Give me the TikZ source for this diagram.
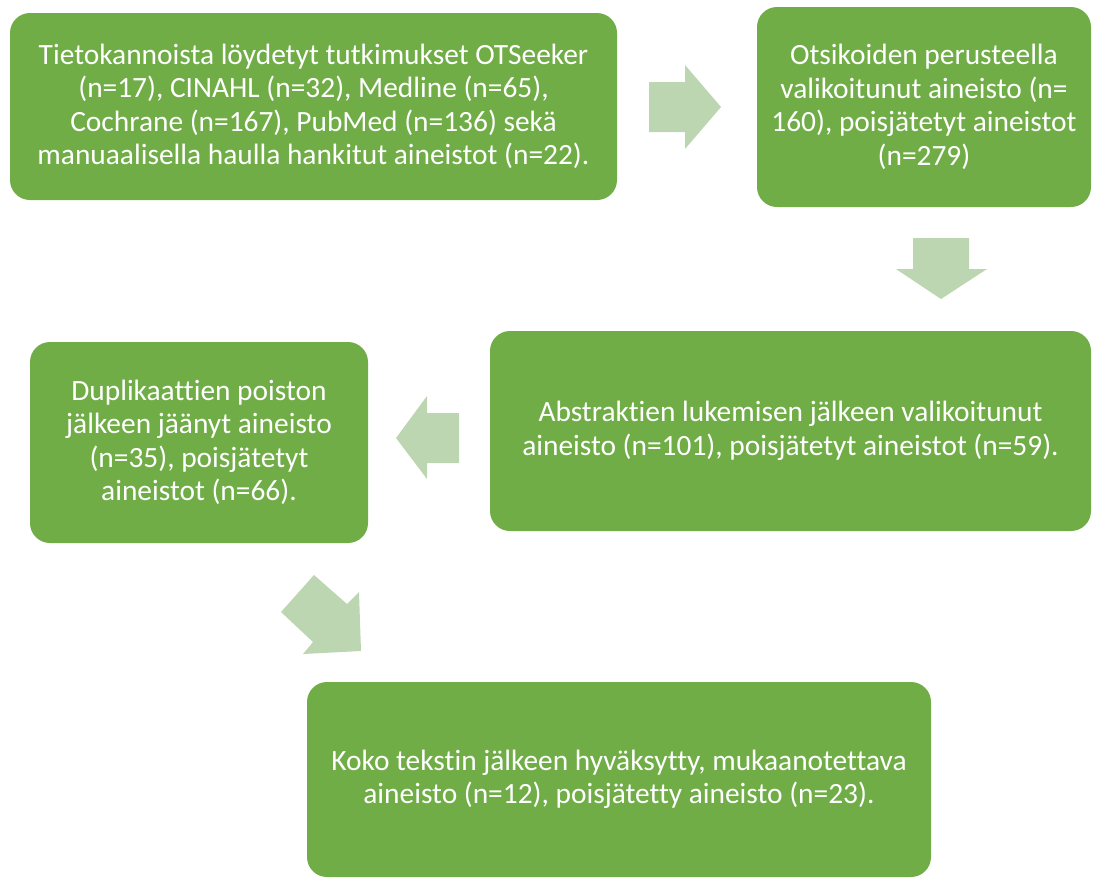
\documentclass[tikz,border=0pt]{standalone}
\usepackage{fontspec}
\setmainfont[Ligatures=NoCommon]{Carlito}
\definecolor{boxgreen}{RGB}{112,173,71}
\definecolor{arrgreen}{RGB}{188,214,177}
\begin{document}
\begin{tikzpicture}[x=1pt,y=-1pt,
  box/.style={draw=none,fill=boxgreen,rounded corners=20pt,text=white,align=center,
    font=\fontsize{29.4}{33.5}\selectfont,inner sep=0pt},
  blockarrow/.style={fill=arrgreen,draw=none}]
\useasboundingbox (0,0) rectangle (1093,879);
\node[box,minimum width=607pt,minimum height=187pt] (b1) at (313.5,106.5)
  {Tietokannoista löydetyt tutkimukset OTSeeker\\(n=17), CINAHL (n=32), Medline (n=65),\\Cochrane (n=167), PubMed (n=136) sekä\\manuaalisella haulla hankitut aineistot (n=22).};
\node[box,minimum width=334pt,minimum height=200pt] (b2) at (924,107)
  {Otsikoiden perusteella\\valikoitunut aineisto (n=\\160), poisjätetyt aineistot\\(n=279)};
\node[box,minimum width=601pt,minimum height=200pt] (b3) at (790.5,431)
  {Abstraktien lukemisen jälkeen valikoitunut\\aineisto (n=101), poisjätetyt aineistot (n=59).};
\node[box,minimum width=338pt,minimum height=201pt] (b4) at (199,442.5)
  {Duplikaattien poiston\\jälkeen jäänyt aineisto\\(n=35), poisjätetyt\\aineistot (n=66).};
\node[box,minimum width=624pt,minimum height=195pt] (b5) at (619,779.5)
  {Koko tekstin jälkeen hyväksytty, mukaanotettava\\aineisto (n=12), poisjätetty aineisto (n=23).};
% block arrows
\fill[blockarrow] (649,82) -- (685,82) -- (685,65) -- (721,107) -- (685,149) -- (685,132) -- (649,132) -- cycle;
\fill[blockarrow] (913,238) -- (969,238) -- (969,269) -- (987,269) -- (941,299) -- (896,269) -- (913,269) -- cycle;
\fill[blockarrow] (459,413) -- (427,413) -- (427,396) -- (396,438) -- (427,479) -- (427,463) -- (459,463) -- cycle;
\fill[blockarrow] (281,612) -- (314,575) -- (347,604) -- (359,592) -- (361,651) -- (303,654) -- (313,642) -- cycle;
\end{tikzpicture}
\end{document}
